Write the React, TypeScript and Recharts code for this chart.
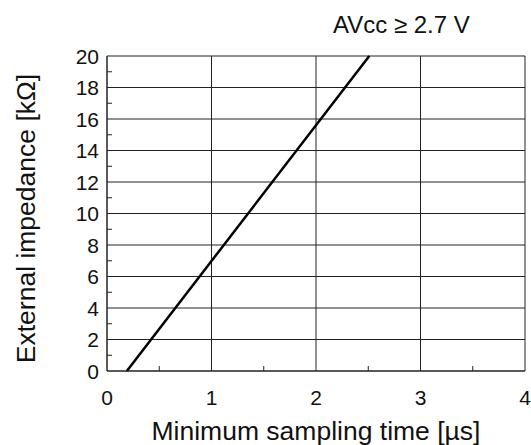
import { LineChart, Line, XAxis, YAxis, CartesianGrid, Label } from "recharts";

// minimum sampling time [us] vs external impedance [kOhm]
const samplingTime = [0.19, 2.51];
const impedance = [0, 20];

const xTicks = [0, 0.5, 1, 1.5, 2, 2.5, 3, 3.5, 4];
const yTicks = [0, 1, 2, 3, 4, 5, 6, 7, 8, 9, 10, 11, 12, 13, 14, 15, 16, 17, 18, 19, 20];
const xGrid = [0, 1, 2, 3, 4];
const yGrid = [0, 2, 4, 6, 8, 10, 12, 14, 16, 18, 20];

const data = samplingTime.map((t, i) => ({ t, z: impedance[i] }));

const FONT = "'Liberation Sans', Arial, sans-serif";
const INK = "#222";

const XTick = (props: any) => {
  const { x, y, payload } = props;
  const v = payload.value;
  if (!Number.isInteger(v)) {
    return <line x1={x} x2={x} y1={y} y2={y - 5} stroke={INK} strokeWidth={1} />;
  }
  return (
    <text x={x} y={y + 34} textAnchor="middle" fontSize={21} fill="#111" fontFamily={FONT}>
      {v}
    </text>
  );
};

const YTick = (props: any) => {
  const { x, y, payload } = props;
  const v = payload.value;
  if (v % 2 !== 0) {
    return <line x1={x} x2={x + 5} y1={y} y2={y} stroke={INK} strokeWidth={1} />;
  }
  return (
    <text x={x - 8} y={y + 7.5} textAnchor="end" fontSize={21} fill="#111" fontFamily={FONT}>
      {v}
    </text>
  );
};

// rotated y-axis title, baseline sits a bit right of the chart edge
const YTitle = (props: any) => {
  const vb = props.viewBox || {};
  const cx = 35;
  const cy = (vb.y ?? 56) + (vb.height ?? 315) / 2 + 5;
  return (
    <text
      x={cx}
      y={cy}
      transform={`rotate(-90, ${cx}, ${cy})`}
      textAnchor="middle"
      fontSize={26.5}
      fill="#111"
      fontFamily={FONT}
    >
      External impedance [kΩ]
    </text>
  );
};

export default function App() {
  return (
    <div style={{ position: "absolute", left: 0, top: 0, width: 531, height: 445, background: "#fff" }}>
      <div
        style={{
          position: "absolute",
          left: 333,
          top: 11,
          fontSize: 24,
          fontFamily: FONT,
          color: "#111",
          whiteSpace: "nowrap",
        }}
      >
        AVcc ≥ 2.7 V
      </div>
      <LineChart width={531} height={445} data={data} margin={{ top: 56, right: 6, bottom: 0, left: 0 }}>
        <CartesianGrid stroke={INK} strokeWidth={1} horizontalValues={yGrid} verticalValues={xGrid} />
        <XAxis
          type="number"
          dataKey="t"
          domain={[0, 4]}
          ticks={xTicks}
          interval={0}
          height={74}
          tickSize={0}
          tickMargin={0}
          tickLine={false}
          axisLine={{ stroke: INK }}
          tick={<XTick />}
        >
          <Label
            value="Minimum sampling time [µs]"
            position="insideBottom"
            offset={5}
            style={{ fontSize: 26.5, fontFamily: FONT, fill: "#111" }}
          />
        </XAxis>
        <YAxis
          type="number"
          domain={[0, 20]}
          ticks={yTicks}
          interval={0}
          width={107}
          tickSize={0}
          tickMargin={0}
          tickLine={false}
          axisLine={{ stroke: INK }}
          tick={<YTick />}
        >
          <Label content={<YTitle />} />
        </YAxis>
        <Line
          type="linear"
          dataKey="z"
          stroke="#000"
          strokeWidth={2.5}
          dot={false}
          isAnimationActive={false}
        />
      </LineChart>
    </div>
  );
}
